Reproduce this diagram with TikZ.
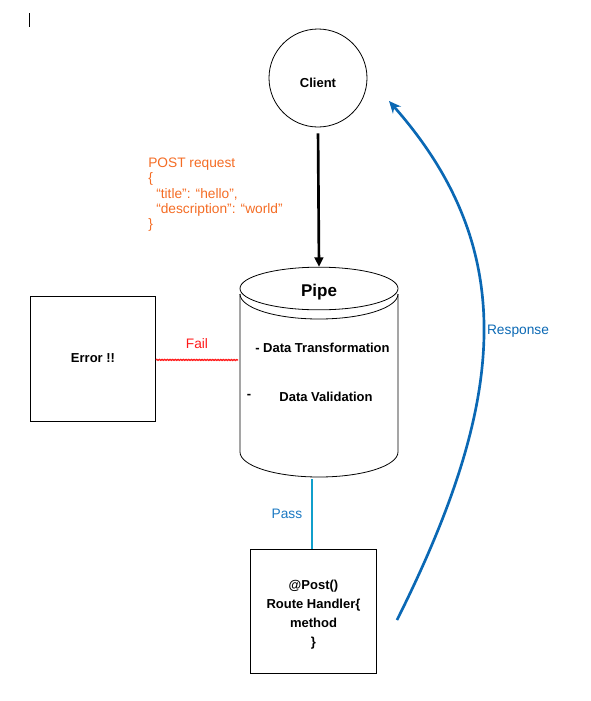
\documentclass[tikz,border=0pt]{standalone}
\usepackage{fontspec}
\setmainfont{Liberation Sans}
\usetikzlibrary{arrows.meta, positioning, shapes.geometric, decorations.pathmorphing}
\definecolor{reqorange}{HTML}{F46C24}
\definecolor{failred}{HTML}{FF1A1A}
\definecolor{passcyan}{HTML}{109FCB}
\definecolor{passblue}{HTML}{1A78C2}
\definecolor{respblue}{HTML}{0A68B4}
\newcommand{\boxfont}{\fontsize{9.75}{14.25}\selectfont\bfseries}
\newcommand{\notefont}{\fontsize{10.3}{11.5}\selectfont}

\begin{document}
\begin{tikzpicture}[x=0.75pt, y=-0.75pt, >=Stealth]
    \useasboundingbox (0,0) rectangle (591,701);
    % Cursor mark
    \draw[line width=0.6pt] (29,13) -- (29,27);

    % Client
    \node[circle, draw, line width=0.6pt, minimum size=73.5pt, inner sep=0pt, text height=14.4pt, text depth=0pt, font=\boxfont] (client) at (318,78) {Client};

    % Request body
    \node[anchor=north west, align=left, inner sep=0pt, text=reqorange, font=\notefont] (request) at (148,157.5)
        {POST request\\\{\\\hspace*{6pt}“title”: “hello”,\\\hspace*{6pt}“description”: “world”\\\}};

    % Pipe cylinder
    \draw[line width=0.6pt] (240,294) -- (240,452) arc[start angle=180, end angle=0, x radius=79, y radius=25] -- (398,294);
    \draw[line width=0.6pt] (240,294) arc[start angle=180, end angle=0, x radius=79, y radius=25];
    \node[ellipse, draw, fill=white, line width=0.6pt, minimum width=118.5pt, minimum height=32pt, inner sep=0pt, text height=12.5pt, text depth=0pt, font=\fontsize{12.75}{14}\selectfont\bfseries] (pipe) at (319,288.5) {Pipe};
    \node[anchor=west, inner sep=0pt, font=\boxfont] (transform) at (255,348) {- Data Transformation};
    \node[inner sep=0pt, font=\boxfont] (dash) at (249,396) {-};
    \node[inner sep=0pt, font=\boxfont] (validate) at (326,397) {Data Validation};

    % Request arrow
    \draw[-{Triangle[length=7pt, width=6.5pt]}, line width=2pt, shorten <=4.5pt] (client.south) -- (pipe.north);

    % Error and fail line
    \node[draw, line width=0.6pt, minimum size=93.75pt, inner sep=0pt, font=\boxfont] (error) at (93,358.5) {Error !!};
    \coordinate (pipeleft) at (238,360);
    \draw[failred, line width=1pt, decorate, decoration={snake, amplitude=0.35pt, segment length=2pt}] ([yshift=-1pt]error.east) -- (pipeleft)
        node[midway, above=5pt, text=failred, font=\notefont] (fail) {Fail};

    % Route handler and pass line
    \node[draw, line width=0.6pt, minimum width=94.5pt, minimum height=93pt, inner sep=0pt, align=center, font=\boxfont] (handler) at (313.5,611)
        {\rule{0pt}{12pt}@Post()\\Route Handler\{\\method\\\}};
    \coordinate (pipebottom) at (312,479);
    \draw[passcyan, line width=2pt] (pipebottom) -- (handler.north -| pipebottom)
        node[midway, left=3pt, text=passblue, font=\notefont] (pass) {Pass};

    % Response arrow
    \coordinate (respstart) at (397,620);
    \coordinate (respend) at (389,101);
    \draw[-{Stealth[length=9pt, width=8pt]}, respblue, line width=2pt] (respstart) .. controls (505,404) and (522,252) .. (respend);
    \node[text=respblue, font=\notefont] (response) at (518,331) {Response};
\end{tikzpicture}
\end{document}
